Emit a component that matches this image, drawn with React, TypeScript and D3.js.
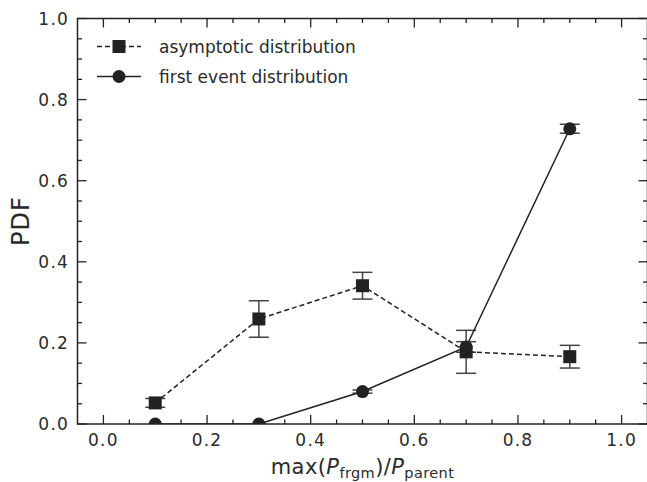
import React from "react";
import * as d3 from "d3";

const xVals = [0.1, 0.3, 0.5, 0.7, 0.9];
const asymY = [0.052, 0.259, 0.341, 0.178, 0.166];
const asymErr = [0.011, 0.045, 0.033, 0.053, 0.028];
const firstY = [0.0, 0.0, 0.08, 0.19, 0.728];
const firstErr = [0.0, 0.0, 0.004, 0.013, 0.011];
const xMajor = [0, 0.2, 0.4, 0.6, 0.8, 1.0];
const yMajor = [0, 0.2, 0.4, 0.6, 0.8, 1.0];
const legendLabels = ["asymptotic distribution", "first event distribution"];

const W = 647;
const H = 482;
const L = 77.5;
const R = 647.5;
const T = 18.5;
const B = 424;
const FONT = "'DejaVu Sans', sans-serif";
const INK = "#222";

export default function App() {
  const x = d3.scaleLinear().domain([-0.05, 1.05]).range([L, R]);
  const y = d3.scaleLinear().domain([0, 1]).range([B, T]);
  const xMinor = d3.range(0, 21).map((i) => i * 0.05).filter((v) => !xMajor.some((m) => Math.abs(m - v) < 1e-6));
  const yMinor = d3.range(0, 21).map((i) => i * 0.05).filter((v) => !yMajor.some((m) => Math.abs(m - v) < 1e-6));
  const line = d3.line<number>().x((_, i) => x(xVals[i])).y((d) => y(d));
  const sq = 13;
  const cr = 6.5;
  const cap = 10;

  const errBars = (vals: number[], errs: number[], key: string) =>
    vals.map((v, i) =>
      errs[i] > 0 ? (
        <g key={key + i} stroke="#444" strokeWidth={1.5}>
          <line x1={x(xVals[i])} x2={x(xVals[i])} y1={y(v - errs[i])} y2={y(v + errs[i])} />
          <line x1={x(xVals[i]) - cap} x2={x(xVals[i]) + cap} y1={y(v - errs[i])} y2={y(v - errs[i])} />
          <line x1={x(xVals[i]) - cap} x2={x(xVals[i]) + cap} y1={y(v + errs[i])} y2={y(v + errs[i])} />
        </g>
      ) : null
    );

  return (
    <svg width={W} height={H} style={{ position: "absolute", left: 0, top: 0 }} fontFamily={FONT}>
      <rect x={0} y={0} width={W} height={H} fill="#fff" />
      <defs>
        <clipPath id="plot">
          <rect x={L} y={T} width={R - L} height={B - T} />
        </clipPath>
      </defs>
      <g clipPath="url(#plot)">
        {errBars(asymY, asymErr, "ae")}
        {errBars(firstY, firstErr, "fe")}
        <path d={line(asymY) || ""} fill="none" stroke={INK} strokeWidth={1.5} strokeDasharray="5,3" />
        <path d={line(firstY) || ""} fill="none" stroke={INK} strokeWidth={1.5} />
        {firstY.map((v, i) => (
          <circle key={"c" + i} cx={x(xVals[i])} cy={y(v)} r={cr} fill={INK} />
        ))}
        {asymY.map((v, i) => (
          <rect key={"s" + i} x={x(xVals[i]) - sq / 2} y={y(v) - sq / 2} width={sq} height={sq} fill={INK} />
        ))}
      </g>
      <rect x={L} y={T} width={R - L} height={B - T} fill="none" stroke={INK} strokeWidth={1.5} />
      <g stroke={INK} strokeWidth={1.3}>
        {xMajor.map((v) => (
          <g key={"xm" + v}>
            <line x1={x(v)} x2={x(v)} y1={B} y2={B - 9} />
            <line x1={x(v)} x2={x(v)} y1={T} y2={T + 9} />
          </g>
        ))}
        {xMinor.map((v) => (
          <g key={"xn" + v}>
            <line x1={x(v)} x2={x(v)} y1={B} y2={B - 4.5} />
            <line x1={x(v)} x2={x(v)} y1={T} y2={T + 4.5} />
          </g>
        ))}
        {yMajor.map((v) => (
          <g key={"ym" + v}>
            <line x1={L} x2={L + 9} y1={y(v)} y2={y(v)} />
            <line x1={R} x2={R - 9} y1={y(v)} y2={y(v)} />
          </g>
        ))}
        {yMinor.map((v) => (
          <g key={"yn" + v}>
            <line x1={L} x2={L + 4.5} y1={y(v)} y2={y(v)} />
            <line x1={R} x2={R - 4.5} y1={y(v)} y2={y(v)} />
          </g>
        ))}
      </g>
      <g fill="#2a2a2a" fontSize={17} letterSpacing={1.2}>
        {xMajor.map((v) => (
          <text key={"xl" + v} x={x(v)} y={446} textAnchor="middle">
            {d3.format(".1f")(v)}
          </text>
        ))}
        {yMajor.map((v) => (
          <text key={"yl" + v} x={69} y={y(v) + 6} textAnchor="end">
            {d3.format(".1f")(v)}
          </text>
        ))}
      </g>
      <text x={(L + R) / 2} y={474} textAnchor="middle" fontSize={21} fill="#2a2a2a" letterSpacing={0.4}>
        max(
        <tspan fontStyle="italic">P</tspan>
        <tspan fontSize={14.5} dy={4}>frgm</tspan>
        <tspan dy={-4}>)/</tspan>
        <tspan fontStyle="italic">P</tspan>
        <tspan fontSize={14.5} dy={4}>parent</tspan>
      </text>
      <text transform={`translate(29,221) rotate(-90)`} textAnchor="middle" fontSize={24} fill="#2a2a2a" letterSpacing={1}>
        PDF
      </text>
      <g>
        <line x1={97} x2={141} y1={46.5} y2={46.5} stroke={INK} strokeWidth={1.5} strokeDasharray="5,3" />
        <rect x={119 - sq / 2} y={46.5 - sq / 2} width={sq} height={sq} fill={INK} />
        <line x1={97} x2={141} y1={76.5} y2={76.5} stroke={INK} strokeWidth={1.5} />
        <circle cx={119} cy={76.5} r={cr} fill={INK} />
        <text x={159} y={52.5} fontSize={17} fill="#2a2a2a">{legendLabels[0]}</text>
        <text x={159} y={82.5} fontSize={17} fill="#2a2a2a">{legendLabels[1]}</text>
      </g>
    </svg>
  );
}
